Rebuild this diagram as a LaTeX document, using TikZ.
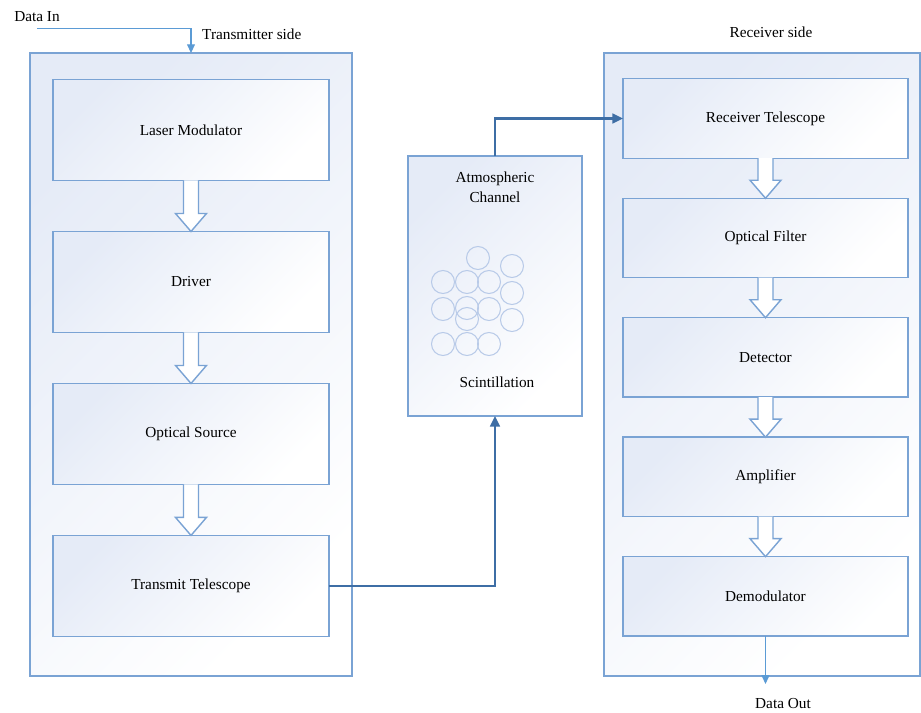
\documentclass[tikz,border=0pt]{standalone}
\usepackage{fontspec}
\setmainfont{Liberation Serif}
\usetikzlibrary{arrows.meta,positioning}
\definecolor{frameblue} {RGB}{122,163,212}
\definecolor{shadeblue} {RGB}{229,235,247}
\definecolor{linkblue}  {RGB}{62,110,165}
\definecolor{datablue}  {RGB}{91,155,213}
\definecolor{bubbleblue}{RGB}{184,202,232}

\begin{document}
\begin{tikzpicture}[
    x=0.02cm,y=-0.02cm,
    font=\fontsize{8.7}{11.3}\selectfont,
    panel/.style={draw=frameblue,line width=0.8pt,
                  top color=shadeblue,bottom color=white,shading angle=45,
                  inner sep=0pt,outer sep=0pt},
    txstage/.style={panel,minimum width=5.52cm,minimum height=2.02cm},
    rxstage/.style={panel,minimum width=5.7cm,minimum height=1.59cm},
    hollow/.style={draw=frameblue,fill=white,line width=0.8pt},
    dataline/.style={draw=datablue,line width=0.6pt,
                     -{Triangle[length=5pt,width=4.5pt]}},
    link/.style={draw=linkblue,line width=1.4pt,
                 -{Triangle[length=6pt,width=5.5pt]}},
    bubble/.style={draw=bubbleblue,line width=0.6pt},
  ]
  \useasboundingbox (0,0) rectangle (921,713);

  %% Outer frames
  \node[panel,minimum width=6.44cm,minimum height=12.46cm]
    (txbox) at (191,364.5) {};
  \node[panel,minimum width=6.32cm,minimum height=12.46cm]
    (rxbox) at (762,364.5) {};
  \node[panel,minimum width=3.48cm,minimum height=5.2cm]
    (chan) at (495,286) {};

  %% Transmitter chain
  \node[txstage] (laser) at (191,130) {Laser Modulator};
  \node[txstage] (driver) [below=1.02cm of laser] {Driver};
  \node[txstage] (source) [below=1.02cm of driver] {Optical Source};
  \node[txstage] (txtel) [below=1.02cm of source] {Transmit Telescope};

  %% Receiver chain
  \node[rxstage] (rxtel) at (765.5,118.5) {Receiver Telescope};
  \node[rxstage] (filter) [below=0.8cm of rxtel] {Optical Filter};
  \node[rxstage] (detector) [below=0.8cm of filter] {Detector};
  \node[rxstage] (amp) [below=0.8cm of detector] {Amplifier};
  \node[rxstage] (demod) [below=0.8cm of amp] {Demodulator};

  %% Hollow block arrows between stages
  \foreach \a/\b in {laser/driver,driver/source,source/txtel,
                     rxtel/filter,filter/detector,detector/amp,amp/demod}
    \draw[hollow] ([xshift=-0.15cm]\a.south)
      -- ([xshift=-0.15cm,yshift=0.36cm]\b.north)
      -- ([xshift=-0.31cm,yshift=0.36cm]\b.north)
      -- (\b.north)
      -- ([xshift=0.31cm,yshift=0.36cm]\b.north)
      -- ([xshift=0.15cm,yshift=0.36cm]\b.north)
      -- ([xshift=0.15cm]\a.south);

  %% Channel contents
  \node[align=center] (chantitle) at (495,187) {Atmospheric\\Channel};
  \node (scint) at (497,382) {Scintillation};
  \foreach \cx/\cy in {478/258,512/266,443/282,467/282,489/282,512/293,
                       443/309,467/308,489/309,467/319,512/320,
                       443/344,467/344,489/344}
    \draw[bubble] (\cx,\cy) circle[radius=0.23cm];

  %% Side labels
  \node (datain) at (37,17) {Data In};
  \node[anchor=west] (txlabel) at (196,34) {Transmitter side};
  \node (rxlabel) at (771,32) {Receiver side};
  \node (dataout) at (783,704) {Data Out};
  \coordinate (doutend) at (765.5,684);

  %% Data in / out
  \draw[dataline] (datain.south) -| (txbox.north);
  \draw[dataline] (demod.south) -- (doutend);

  %% Free-space link
  \draw[link] (txtel.east) -| (chan.south);
  \draw[link] (chan.north) |- (rxtel.west);
\end{tikzpicture}
\end{document}
